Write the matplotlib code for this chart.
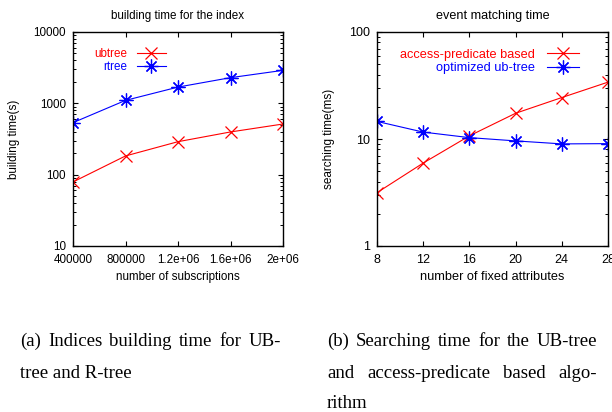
import numpy as np
import matplotlib
matplotlib.use("Agg")
import matplotlib.pyplot as plt
from matplotlib.ticker import FixedLocator, LogLocator, NullFormatter

# data
subs = [400000, 800000, 1200000, 1600000, 2000000]
subs_labels = ["400000", "800000", "1.2e+06", "1.6e+06", "2e+06"]
ubtree_build = [79, 183, 290, 397, 513]
rtree_build = [536, 1100, 1690, 2290, 2900]

attrs = [8, 12, 16, 20, 24, 28]
access_pred = [3.15, 5.96, 10.7, 17.4, 24.4, 34.0]
opt_ubtree = [14.6, 11.6, 10.3, 9.6, 9.0, 9.05]

left_yticks = [10, 100, 1000, 10000]
right_yticks = [1, 10, 100]

RED = "#ff0000"
BLUE = "#0000ff"
STAR = (8, 2, 0)   # gnuplot style asterisk

plt.rcParams['font.family'] = ['Liberation Sans', 'DejaVu Sans']
plt.rcParams['font.size'] = 8.4

W, H = 612, 412
fig = plt.figure(figsize=(W / 100, H / 100), dpi=100)


def px_axes(x0, y0, x1, y1):
    # pixel box -> figure fraction
    return fig.add_axes([x0 / W, 1 - y1 / H, (x1 - x0) / W, (y1 - y0) / H])


def style_axes(ax, fs):
    for s in ax.spines.values():
        s.set_linewidth(1.0)
    ax.tick_params(which='both', direction='in', top=True, right=True, labelsize=fs)
    ax.tick_params(axis='x', pad=6)
    ax.tick_params(axis='y', pad=5)
    ax.tick_params(which='major', length=3.5, width=0.8)
    ax.tick_params(which='minor', length=2, width=0.7)
    ax.xaxis.set_minor_locator(FixedLocator([]))
    ax.yaxis.set_minor_locator(LogLocator(base=10, subs=np.arange(2, 10)))
    ax.yaxis.set_minor_formatter(NullFormatter())


# (a) building time
ax1 = px_axes(73, 32, 283, 246)
ax1.plot(subs, ubtree_build, color=RED, lw=0.8, marker='x', ms=9, mew=0.9, label='ubtree')
ax1.plot(subs, rtree_build, color=BLUE, lw=0.8, marker=STAR, ms=10, mew=0.9, label='rtree')
ax1.set_yscale('log')
ax1.set_xlim(400000, 2000000)
ax1.set_ylim(10, 10000)
ax1.set_xticks(subs)
ax1.set_xticklabels(subs_labels)
ax1.set_yticks(left_yticks)
ax1.set_yticklabels([str(v) for v in left_yticks])
style_axes(ax1, 8.4)
ax1.set_title("building time for the index", fontsize=8.4, pad=9)
ax1.set_xlabel("number of subscriptions", fontsize=8.4)
ax1.set_ylabel("building time(s)", fontsize=8.4)
ax1.xaxis.set_label_coords(0.5, -0.119)
ax1.yaxis.set_label_coords(-0.252, 0.5)
ax1.legend(loc='upper right', bbox_to_anchor=(0.443, 0.925), markerfirst=False, frameon=False,
           labelcolor='linecolor', handlelength=2.5, handletextpad=0.85, labelspacing=0.05,
           borderpad=0, borderaxespad=0, fontsize=8.4)

# (b) matching time (this panel was drawn with slightly bigger text)
ax2 = px_axes(377, 32, 608, 246)
ax2.plot(attrs, access_pred, color=RED, lw=0.8, marker='x', ms=9, mew=0.9, label='access-predicate based')
ax2.plot(attrs, opt_ubtree, color=BLUE, lw=0.8, marker=STAR, ms=10, mew=0.9, label='optimized ub-tree')
ax2.set_yscale('log')
ax2.set_xlim(8, 28)
ax2.set_ylim(1, 100)
ax2.set_xticks(attrs)
ax2.set_yticks(right_yticks)
ax2.set_yticklabels([str(v) for v in right_yticks])
style_axes(ax2, 9.0)
ax2.set_title("event matching time", fontsize=9.1, pad=9)
ax2.set_xlabel("number of fixed attributes", fontsize=9.2)
ax2.set_ylabel("searching time(ms)", fontsize=8.5)
ax2.xaxis.set_label_coords(0.5, -0.115)
ax2.yaxis.set_label_coords(-0.182, 0.5)
ax2.legend(loc='upper right', bbox_to_anchor=(0.874, 0.921), markerfirst=False, frameon=False,
           labelcolor='linecolor', handlelength=2.5, handletextpad=0.94, labelspacing=0.1,
           borderpad=0, borderaxespad=0, fontsize=9.2)

# captions (justified like the paper)
CAP_FONT = ['Liberation Serif', 'DejaVu Serif']
CAP_SIZE = 13.5
renderer = fig.canvas.get_renderer()


def caption_line(text, x0, x1, y, justify=True):
    words = text.split()
    if not justify:
        fig.text(x0 / W, 1 - y / H, text, family=CAP_FONT, fontsize=CAP_SIZE, va='center', ha='left')
        return
    objs = [fig.text(0, 1 - y / H, w, family=CAP_FONT, fontsize=CAP_SIZE, va='center', ha='left')
            for w in words]
    widths = [o.get_window_extent(renderer).width for o in objs]
    gap = (x1 - x0 - sum(widths)) / (len(words) - 1)
    x = x0
    for o, w in zip(objs, widths):
        o.set_x(x / W)
        x += w + gap


caption_line("(a) Indices building time for UB-", 20, 281, 341)
caption_line("tree and R-tree", 20, 281, 373, justify=False)
caption_line("(b) Searching time for the UB-tree", 327, 597, 341)
caption_line("and access-predicate based algo-", 327, 597, 373)
caption_line("rithm", 327, 597, 403, justify=False)

fig.savefig("out.png", dpi=100)
